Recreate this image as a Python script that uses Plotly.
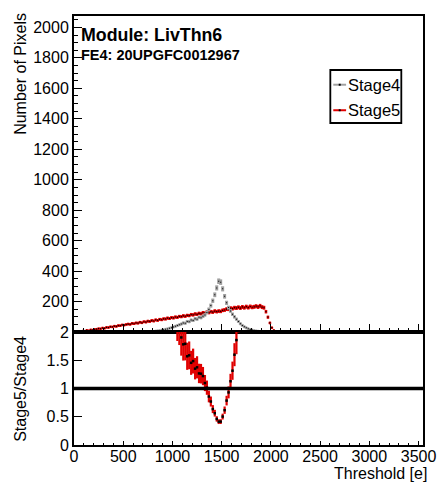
import numpy as np
import plotly.graph_objects as go

# ---------------- data ----------------
bin_width = 20
stage5_first_center = 70
stage5_counts = [
    3, 7, 6, 12, 9, 15, 13, 18, 19, 23,
    22, 27, 25, 31, 30, 35, 34, 39, 37, 43,
    42, 47, 46, 50, 53, 51, 57, 55, 60, 59,
    65, 61, 68, 66, 72, 70, 76, 73, 80, 77,
    84, 81, 87, 86, 92, 89, 95, 93, 99, 97,
    103, 101, 107, 104, 110, 108, 115, 113, 119, 117,
    123, 120, 127, 124, 131, 128, 134, 131, 138, 134,
    138, 136, 143, 145, 151, 150, 157, 154, 160, 158,
    163, 158, 165, 160, 167, 161, 168, 163, 166, 170,
    165, 172, 164, 160, 134, 98, 60, 29, 11, 4,
    1,
]
stage4_first_center = 750
stage4_counts = [
    1, 2, 3, 4, 6, 8, 10, 12, 15, 18,
    21, 25, 29, 33, 38, 43, 48, 53, 60, 58,
    70, 68, 79, 76, 88, 85, 97, 95, 104, 113,
    129, 149, 174, 206, 245, 290, 334, 328, 284, 235,
    192, 161, 139, 117, 100, 85, 70, 55, 44, 35,
    28, 22, 17, 13, 10, 7, 5, 3, 2, 1,
]
x_tick_values = [0, 500, 1000, 1500, 2000, 2500, 3000, 3500]
y_tick_values = [200, 400, 600, 800, 1000, 1200, 1400, 1600, 1800, 2000]
ratio_tick_values = [0, 0.5, 1, 1.5, 2]
ratio_tick_text = ["0", "0.5", "1", "1.5", "2"]
series_names = ["Stage4", "Stage5"]
module_label = "Module: LivThn6"
fe_label = "FE4: 20UPGFC0012967"
min_ref_count = 10

# ---------------- derived ----------------
s5 = np.array(stage5_counts, dtype=float)
s4 = np.array(stage4_counts, dtype=float)
x5 = stage5_first_center + bin_width * np.arange(len(s5))
x4 = stage4_first_center + bin_width * np.arange(len(s4))

d5 = dict(zip(x5.tolist(), s5.tolist()))
d4 = dict(zip(x4.tolist(), s4.tolist()))
rx, ry, re = [], [], []
for c in sorted(d4):
    if c in d5 and d4[c] >= min_ref_count and d5[c] > 0:
        r = d5[c] / d4[c]
        rx.append(c)
        ry.append(r)
        re.append(r * np.sqrt(1.0 / d5[c] + 1.0 / d4[c]))

GRAY = "#a0a0a0"
RED = "#e00000"
FONT = "Liberation Sans, Arial, Helvetica, sans-serif"

W, H = 444, 482
ML, MR, MT, MB = 74, 16, 8, 37
PW = W - ML - MR
PH = H - MT - MB
split_px = 330


def px_x(px):
    return (px - ML) / PW


def px_y(py):
    return (H - MB - py) / PH


bottom_frac = (H - MB - split_px) / PH

fig = go.Figure()

# top panel histograms
fig.add_trace(go.Scatter(
    x=x5, y=s5, mode="markers", xaxis="x", yaxis="y", showlegend=False,
    marker=dict(symbol="square", size=1.2, color="black"),
    error_y=dict(type="data", array=np.sqrt(s5), color=RED, thickness=2.6, width=0),
    error_x=dict(type="constant", value=bin_width / 2, color=RED, thickness=2.6, width=0),
    name=series_names[1],
))
fig.add_trace(go.Scatter(
    x=x4, y=s4, mode="markers", xaxis="x", yaxis="y", showlegend=False,
    marker=dict(symbol="square", size=1, color="black"),
    error_y=dict(type="data", array=np.sqrt(s4), color=GRAY, thickness=3, width=0),
    error_x=dict(type="constant", value=bin_width / 2, color=GRAY, thickness=3, width=0),
    name=series_names[0],
))

# ratio panel
fig.add_trace(go.Scatter(
    x=rx, y=ry, mode="markers", xaxis="x2", yaxis="y2", showlegend=False,
    marker=dict(symbol="square", size=2.5, color="black"),
    error_y=dict(type="data", array=re, color=RED, thickness=2.2, width=0),
    cliponaxis=True,
))

axis_common = dict(
    showline=True, linecolor="black", linewidth=2, mirror=True,
    showgrid=False, zeroline=False, ticks="inside", tickcolor="black",
    tickwidth=1.2,
    tickfont=dict(family=FONT, size=16, color="black"),
)

fig.update_layout(
    width=W, height=H,
    margin=dict(l=ML, r=MR, t=MT, b=MB, pad=0),
    paper_bgcolor="white", plot_bgcolor="white",
    font=dict(family=FONT, color="black"),
    xaxis=dict(
        **axis_common, range=[0, 3545], anchor="y", domain=[0, 1],
        tickvals=x_tick_values, showticklabels=False, ticklen=8,
        minor=dict(ticks="inside", ticklen=4, dtick=100, tickcolor="black", tickwidth=1),
    ),
    yaxis=dict(
        **axis_common, range=[0, 2075], anchor="x", domain=[bottom_frac, 1],
        tickvals=y_tick_values, ticklen=8,
        minor=dict(ticks="inside", ticklen=4, dtick=50, tickcolor="black", tickwidth=1),
    ),
    xaxis2=dict(
        **axis_common, range=[0, 3545], anchor="y2", domain=[0, 1],
        tickvals=x_tick_values, ticklen=4, ticklabelstandoff=-4,
        minor=dict(ticks="inside", ticklen=2, dtick=100, tickcolor="black", tickwidth=1),
    ),
    yaxis2=dict(
        **axis_common, range=[0, 2.0], anchor="x2", domain=[0, bottom_frac],
        tickvals=ratio_tick_values, ticktext=ratio_tick_text, ticklen=8,
    ),
)

shapes = [
    # unity line in ratio panel
    dict(type="line", xref="x2", yref="y2", x0=0, x1=3545, y0=1, y1=1,
         line=dict(color="black", width=3.5)),
    # legend box
    dict(type="rect", xref="paper", yref="paper",
         x0=px_x(334), x1=px_x(406), y0=px_y(117), y1=px_y(63),
         line=dict(color="black", width=1.8), fillcolor="white"),
]
legend_rows = [(series_names[0], GRAY, 78), (series_names[1], RED, 104)]
annotations = []
for name, col, ypix in legend_rows:
    shapes.append(dict(type="line", xref="paper", yref="paper",
                       x0=px_x(337), x1=px_x(350), y0=px_y(ypix), y1=px_y(ypix),
                       line=dict(color=col, width=2)))
    shapes.append(dict(type="rect", xref="paper", yref="paper",
                       x0=px_x(342.5), x1=px_x(344.5), y0=px_y(ypix + 1), y1=px_y(ypix - 1),
                       line=dict(width=0), fillcolor="black"))
    annotations.append(dict(text=name, xref="paper", yref="paper",
                            x=px_x(350), y=px_y(ypix), xanchor="left", yanchor="middle",
                            showarrow=False, font=dict(family=FONT, size=16.5, color="black")))

annotations += [
    dict(text="<b>" + module_label + "</b>", xref="paper", yref="paper",
         x=px_x(79), y=px_y(27), xanchor="left", yanchor="middle", showarrow=False,
         font=dict(family=FONT, size=17.8, color="black")),
    dict(text="<b>" + fe_label + "</b>", xref="paper", yref="paper",
         x=px_x(79), y=px_y(47.5), xanchor="left", yanchor="middle", showarrow=False,
         font=dict(family=FONT, size=14.5, color="black")),
    dict(text="Number of Pixels", xref="paper", yref="paper", textangle=-90,
         x=px_x(19), y=px_y(3), xanchor="center", yanchor="top", showarrow=False,
         font=dict(family=FONT, size=16, color="black")),
    dict(text="Stage5/Stage4", xref="paper", yref="paper", textangle=-90,
         x=px_x(19), y=px_y(332), xanchor="center", yanchor="top", showarrow=False,
         font=dict(family=FONT, size=16, color="black")),
    dict(text="Threshold [e]", xref="paper", yref="paper",
         x=px_x(434), y=px_y(474), xanchor="right", yanchor="middle", showarrow=False,
         font=dict(family=FONT, size=16, color="black")),
]

fig.update_layout(shapes=shapes, annotations=annotations)

fig.write_html("out.html", config={"displayModeBar": False},
               post_script="document.body.style.margin='0';")
